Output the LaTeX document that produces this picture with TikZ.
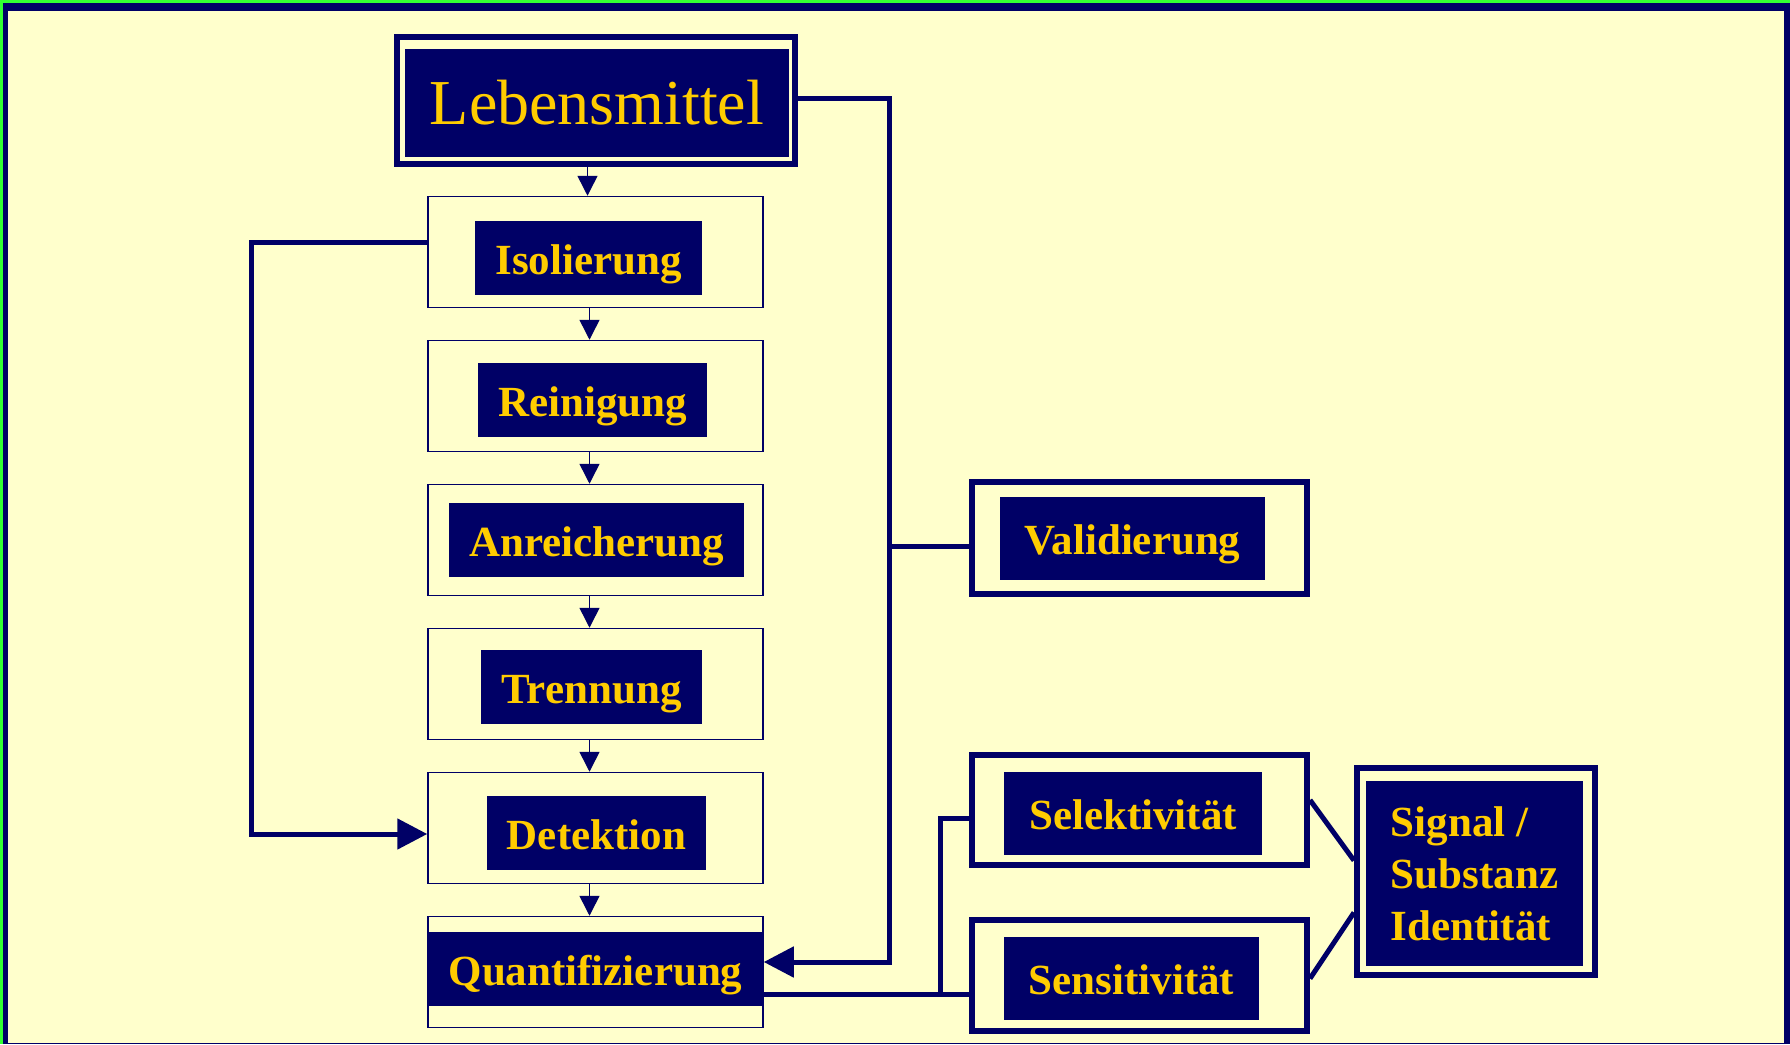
\documentclass[tikz,border=0pt]{standalone}
\usepackage{fontspec}
\setmainfont{Liberation Serif}
\usetikzlibrary{arrows.meta}
\definecolor{navy}{HTML}{000066}
\definecolor{gold}{HTML}{FFCC00}
\definecolor{cream}{HTML}{FFFFCC}
\definecolor{lime}{HTML}{33FF33}
\newcommand{\labfont}{\fontsize{43}{52}\selectfont\bfseries}
\tikzset{
	stepbox/.style={draw=navy, line width=1.5pt, fill=cream, minimum width=335, minimum height=111},
	thickbox/.style={draw=navy, line width=6pt, fill=cream},
	steplabel/.style={fill=navy, text=gold, font=\labfont, inner xsep=20pt, inner ysep=0pt, text height=32pt, text depth=0pt, minimum height=74},
	sidelabel/.style={steplabel, inner xsep=25pt, minimum height=83},
	thinarrow/.style={draw=navy, line width=1.5pt, -{Triangle[width=20pt,length=20pt]}},
	thickline/.style={draw=navy, line width=5pt},
	bigarrow/.style={thickline, -{Triangle[width=30pt,length=30pt]}},
}
\begin{document}
\begin{tikzpicture}[x=1pt,y=-1pt]
			\useasboundingbox (0,0) rectangle (1790,1044);
			\fill[lime] (0,0) rectangle (1790,1044);
			\fill[navy] (3,3) rectangle (1790,1044);
			\fill[cream] (8,11) rectangle (1784,1043);
			% Lebensmittel
			\node[thickbox, minimum width=398, minimum height=127] (leb) at (595.5,100) {};
			\node[fill=navy, text=gold, minimum width=384, minimum height=108, font=\fontsize{64}{70}\selectfont] (leb-txt) at (597,103) {Lebensmittel};
			\foreach \name/\txt/\y/\dx/\dy/\w in {
				iso/Isolierung/252/-7/6/0,
				rei/Reinigung/396/-3/4/0,
				anr/Anreicherung/540/1/0/0,
				tre/Trennung/684/-4/3/0,
				det/Detektion/828/1/5/0,
				qua/Quantifizierung/972/0/-3/335} {
				\node[stepbox] (\name) at (595.5,\y) {};
				\node[steplabel, minimum width=\w] (\name-txt) at (595.5+\dx,\y+\dy) {\txt};
			};
			% right side
			\node[thickbox, minimum width=335, minimum height=112] (val) at (1139.5,538) {};
			\node[sidelabel] (val-txt) at (1132.5,538.5) {Validierung};
			\node[thickbox, minimum width=335, minimum height=110] (sel) at (1139.5,810) {};
			\node[sidelabel] (sel-txt) at (1133,813.5) {Selektivität};
			\node[thickbox, minimum width=335, minimum height=111] (sen) at (1139.5,975.5) {};
			\node[sidelabel] (sen-txt) at (1131.5,978.5) {Sensitivität};
			\node[thickbox, minimum width=238, minimum height=207] (sig) at (1476,871.5) {};
			\node[fill=navy, text=gold, font=\labfont, align=left, minimum width=217, minimum height=185] (sig-txt) at (1474.5,873.5) {Signal /\\Substanz\\Identität};
			% connectors
			\draw[thinarrow] ([xshift=-8pt]leb.south) -- ([xshift=-8pt]iso.north);
			\foreach \a/\b in {iso/rei, rei/anr, anr/tre, tre/det, det/qua} {
				\draw[thinarrow] ([xshift=-6pt]\a.south) -- ([xshift=-6pt]\b.north);
			};
			\draw[bigarrow] ([yshift=10pt]iso.west) -- ++(-176,0) |- ([yshift=-6pt]det.west);
			\draw[bigarrow] ([yshift=2pt]leb.east) -- ++(92,0) |- ([yshift=10pt]qua.east);
			\draw[thickline] ([yshift=-8pt]val.west) -- ++(-80,0);
			\coordinate (qout) at ([yshift=-22pt]qua.east);
			\coordinate (jn) at (940,994);
			\draw[thickline] (qout) -- (qout -| sen.west);
			\draw[thickline] (jn) |- ([yshift=-8pt]sel.west);
			\draw[thickline] ([yshift=10pt]sel.east) -- ([yshift=11pt]sig.west);
			\draw[thickline] ([yshift=-3pt]sen.east) -- ([yshift=-41pt]sig.west);
		\end{tikzpicture}
\end{document}
